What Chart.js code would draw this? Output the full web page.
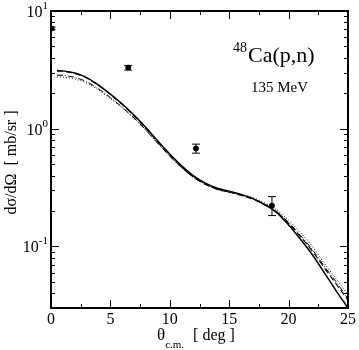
<!DOCTYPE html>
<html>
<head>
<meta charset="utf-8">
<script src="https://cdn.jsdelivr.net/npm/chart.js@4"></script>
<style>
  html, body { margin: 0; padding: 0; background: #fff; }
</style>
</head>
<body>
<canvas id="my-chart" width="359" height="350"></canvas>
<script>
// angles (deg, c.m.) for the calculated curves
const angle = [0.5, 1, 2, 3, 4, 5, 6, 7, 8, 9, 10, 11, 12, 13, 14, 15, 16, 17, 18, 19, 20, 21, 22, 23, 24, 25];

// calculated cross sections (mb/sr)
const solidCurve = [3.12, 3.10, 2.97, 2.72, 2.35, 1.97, 1.62, 1.30, 1.02, 0.785, 0.61, 0.484, 0.398, 0.345, 0.312, 0.295, 0.277, 0.255, 0.226, 0.194, 0.152, 0.115, 0.085, 0.060, 0.042, 0.030];
const dashedCurve = [3.10, 3.08, 2.95, 2.70, 2.33, 1.95, 1.60, 1.28, 1.00, 0.77, 0.595, 0.472, 0.388, 0.337, 0.305, 0.289, 0.272, 0.252, 0.226, 0.196, 0.157, 0.121, 0.091, 0.066, 0.048, 0.035];
const dashDotCurve = [2.85, 2.84, 2.73, 2.51, 2.18, 1.84, 1.52, 1.23, 0.97, 0.75, 0.585, 0.466, 0.385, 0.336, 0.305, 0.289, 0.273, 0.253, 0.228, 0.198, 0.160, 0.124, 0.094, 0.068, 0.050, 0.036];
const dottedCurve = [2.75, 2.74, 2.64, 2.44, 2.13, 1.80, 1.50, 1.22, 0.965, 0.748, 0.585, 0.468, 0.388, 0.34, 0.309, 0.293, 0.278, 0.259, 0.234, 0.205, 0.167, 0.131, 0.100, 0.072, 0.053, 0.039];

// measured data with error bars
const expAngle = [0.05, 6.5, 12.2, 18.6];
const expValue = [7.1, 3.3, 0.68, 0.222];
const expLow = [6.9, 3.15, 0.62, 0.183];
const expHigh = [7.3, 3.45, 0.74, 0.265];

// tick labels
const xTicks = [0, 5, 10, 15, 20, 25];
const yTickExp = [-1, 0, 1];

const serif = "'Liberation Serif', 'Times New Roman', serif";

function xy(xs, ys) {
  return xs.map((x, i) => ({ x: x, y: ys[i] }));
}

function lineSet(ys, dash, width) {
  return {
    type: "line",
    data: xy(angle, ys),
    borderColor: "#000",
    borderWidth: width,
    borderDash: dash,
    pointRadius: 0,
    fill: false,
    cubicInterpolationMode: "monotone",
  };
}

// frame, inward ticks, labels, error bars
const decorPlugin = {
  id: "decor",
  afterDatasetsDraw(chart) {
    const ctx = chart.ctx;
    const a = chart.chartArea;
    const xs = chart.scales.x;
    const ys = chart.scales.y;
    ctx.save();

    // error bars
    ctx.strokeStyle = "#000";
    ctx.lineWidth = 1;
    ctx.beginPath();
    ctx.rect(a.left, a.top, a.right - a.left, a.bottom - a.top);
    ctx.clip();
    expAngle.forEach((x, i) => {
      const px = xs.getPixelForValue(x);
      const lo = ys.getPixelForValue(expLow[i]);
      const hi = ys.getPixelForValue(expHigh[i]);
      ctx.beginPath();
      ctx.moveTo(px, lo);
      ctx.lineTo(px, hi);
      ctx.moveTo(px - 4, lo);
      ctx.lineTo(px + 4, lo);
      ctx.moveTo(px - 4, hi);
      ctx.lineTo(px + 4, hi);
      ctx.stroke();
    });
    ctx.restore();
    ctx.save();

    // frame
    ctx.strokeStyle = "#000";
    ctx.lineWidth = 2;
    ctx.strokeRect(a.left, a.top, a.right - a.left, a.bottom - a.top);

    // x ticks (bottom and top)
    ctx.lineWidth = 1;
    ctx.beginPath();
    for (let v = 0; v <= 25; v += 2.5) {
      const px = Math.round(xs.getPixelForValue(v)) + 0.5;
      const len = v % 5 === 0 ? 8 : 4;
      ctx.moveTo(px, a.bottom);
      ctx.lineTo(px, a.bottom - len);
      ctx.moveTo(px, a.top);
      ctx.lineTo(px, a.top + len);
    }
    // y ticks (left and right), log
    for (let e = -2; e <= 1; e++) {
      for (let m = 1; m <= 9; m++) {
        const v = m * Math.pow(10, e);
        if (v < ys.min || v > ys.max) continue;
        const py = Math.round(ys.getPixelForValue(v)) + 0.5;
        const len = m === 1 ? 8 : 4;
        ctx.moveTo(a.left, py);
        ctx.lineTo(a.left + len, py);
        ctx.moveTo(a.right, py);
        ctx.lineTo(a.right - len, py);
      }
    }
    ctx.stroke();

    // x tick labels
    ctx.fillStyle = "#000";
    ctx.font = "16px " + serif;
    ctx.textAlign = "center";
    ctx.textBaseline = "alphabetic";
    xTicks.forEach((v) => {
      ctx.fillText(String(v), xs.getPixelForValue(v), a.bottom + 16);
    });

    // y tick labels 10^n
    yTickExp.forEach((n) => {
      const py = ys.getPixelForValue(Math.pow(10, n));
      const exp = String(n);
      ctx.font = "11px " + serif;
      const ew = ctx.measureText(exp).width;
      ctx.textAlign = "left";
      const ex = a.left - 3 - ew;
      ctx.fillText(exp, ex, py - 2);
      ctx.font = "16px " + serif;
      ctx.textAlign = "right";
      ctx.fillText("10", ex, py + 6);
    });

    // x axis title
    ctx.textAlign = "left";
    ctx.font = "17px " + serif;
    let tx = 157;
    ctx.fillText("θ", tx, 340);
    tx += ctx.measureText("θ").width;
    ctx.font = "11px " + serif;
    ctx.fillText("c.m.", tx, 348);
    tx += ctx.measureText("c.m.").width + 9;
    ctx.font = "16px " + serif;
    ctx.fillText("[ deg ]", tx, 340);

    // y axis title
    ctx.save();
    ctx.translate(16, (a.top + a.bottom) / 2 + 3);
    ctx.rotate(-Math.PI / 2);
    ctx.textAlign = "center";
    ctx.font = "16px " + serif;
    ctx.fillText("dσ/dΩ  [ mb/sr ]", 0, 0);
    ctx.restore();

    // reaction label
    ctx.textAlign = "left";
    ctx.font = "14px " + serif;
    ctx.fillText("48", 233, 52);
    ctx.font = "22px " + serif;
    ctx.fillText("Ca(p,n)", 248, 62);
    ctx.font = "15px " + serif;
    ctx.fillText("135 MeV", 251, 92);

    ctx.restore();
  },
};

const ctx = document.getElementById("my-chart").getContext("2d");
const chart = new Chart(ctx, {
  data: {
    datasets: [
      lineSet(solidCurve, [], 1.5),
      lineSet(dashedCurve, [6, 3], 1.1),
      lineSet(dashDotCurve, [6, 2, 1, 2], 1),
      lineSet(dottedCurve, [1, 2], 1),
      {
        type: "scatter",
        data: xy(expAngle, expValue),
        backgroundColor: "#000",
        borderColor: "#000",
        pointRadius: 2.5,
        pointStyle: "circle",
      },
    ],
  },
  options: {
    responsive: false,
    animation: false,
    layout: { padding: { left: 51, right: 11, top: 11, bottom: 42 } },
    plugins: {
      legend: { display: false },
      tooltip: { enabled: false },
    },
    scales: {
      x: { type: "linear", min: 0, max: 25, display: false },
      y: { type: "logarithmic", min: 0.03, max: 10, display: false },
    },
  },
  plugins: [decorPlugin],
}); // closes chart
</script>
</body>
</html>
